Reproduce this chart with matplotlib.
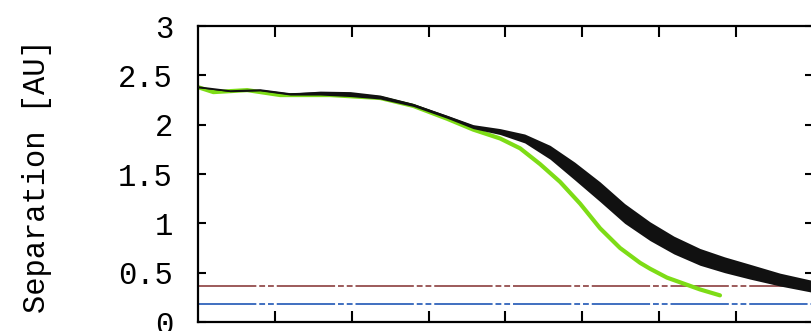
import numpy as np
import matplotlib
matplotlib.use("Agg")
import matplotlib.pyplot as plt

# curve samples (x in bottom-tick units)
black_x = [0.0, 0.42, 0.81, 1.20, 1.59, 1.98, 2.37, 2.80, 3.24, 3.58, 3.93,
           4.25, 4.58, 4.90, 5.23, 5.55, 5.88, 6.19, 6.53, 6.85, 7.18, 7.57, 8.0]
black_mid = [2.38, 2.34, 2.35, 2.31, 2.32, 2.31, 2.28, 2.20, 2.08, 1.98, 1.93,
             1.86, 1.72, 1.53, 1.32, 1.10, 0.92, 0.78, 0.66, 0.58, 0.51, 0.43, 0.36]
black_half = [0.005, 0.006, 0.008, 0.01, 0.02, 0.025, 0.02, 0.015, 0.015, 0.02, 0.03,
              0.045, 0.07, 0.09, 0.10, 0.10, 0.095, 0.09, 0.085, 0.08, 0.075, 0.065, 0.06]

green_x = [0.0, 0.20, 0.64, 1.07, 1.72, 2.37, 2.80, 3.24, 3.58, 3.93, 4.19, 4.45,
           4.71, 4.97, 5.23, 5.49, 5.75, 5.88, 6.10, 6.53, 6.79]
green_y = [2.38, 2.33, 2.35, 2.30, 2.30, 2.27, 2.19, 2.06, 1.95, 1.86, 1.76, 1.60,
           1.42, 1.20, 0.95, 0.75, 0.60, 0.54, 0.45, 0.33, 0.27]

brown_level = 0.365
blue_level = 0.18

yticks = [0, 0.5, 1, 1.5, 2, 2.5, 3]
ytick_labels = ["0", "0.5", "1", "1.5", "2", "2.5", "3"]

W, H = 811, 331
fig = plt.figure(figsize=(W / 100, H / 100), dpi=100)
ax = fig.add_axes([198 / W, (H - 322) / H, 615 / W, 296 / H])

dash = (30, 1.5, 3, 1.5, 3, 1.5)
ax.axhline(brown_level, color="#9c5a5a", lw=1.4, dashes=dash, zorder=1)
ax.axhline(blue_level, color="#3f6fc0", lw=1.4, dashes=dash, zorder=1)

ax.plot(green_x, green_y, color="#7ddc16", lw=3, solid_capstyle="round", zorder=2)

bm = np.array(black_mid)
bh = np.array(black_half)
ax.fill_between(black_x, bm - bh, bm + bh, color="#111111", lw=0, zorder=3)
ax.plot(black_x, black_mid, color="#111111", lw=1.3, zorder=3)

ax.set_xlim(0, 8)
ax.set_ylim(0, 3)
ax.set_xticks(range(1, 8))
ax.set_xticklabels([])
ax.set_yticks(yticks)
ax.set_yticklabels(ytick_labels, family="Liberation Mono", fontsize=22)
ax.tick_params(axis="x", direction="in", length=8, width=1.5, top=True)
ax.tick_params(axis="y", direction="in", length=6, width=1.5, right=True, pad=18)
for s in ax.spines.values():
    s.set_linewidth(1.6)

fig.text(37 / W, 1 - 176 / H, "Separation [AU]", rotation=90, ha="center", va="center",
         family="Liberation Mono", fontsize=22)

fig.savefig("out.png", dpi=100)
